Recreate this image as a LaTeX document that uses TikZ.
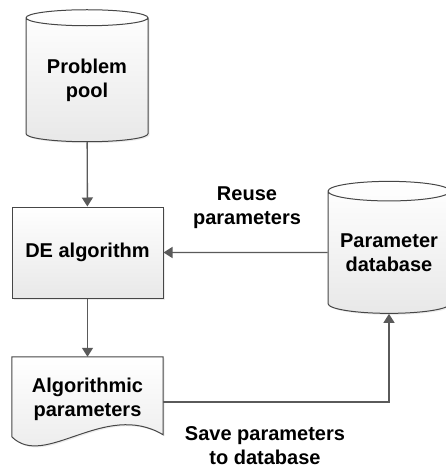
\documentclass[tikz,border=0pt]{standalone}
\usepackage{fontspec}
\setmainfont{Liberation Sans}
\usepackage{tikz}
\usetikzlibrary{shapes.geometric, arrows.meta, positioning, calc, shadows}
\definecolor{edgegray}{RGB}{70,70,70}
\definecolor{arrowgray}{RGB}{90,90,90}
\begin{document}
\begin{tikzpicture}[
    x=1pt, y=-1pt,
    every node/.style={font=\fontsize{20}{24}\selectfont\bfseries, align=center},
    base/.style={draw=edgegray, line width=1pt, top color=white, bottom color=black!9,
                 drop shadow={shadow xshift=1.5pt, shadow yshift=-1.5pt, opacity=0.12, fill=black!60}},
    store/.style={base, cylinder, shape border rotate=90, aspect=0.2, minimum width=122pt, minimum height=132pt, inner sep=0pt},
    procbox/.style={base, rectangle, minimum width=151pt, minimum height=91pt},
    docbox/.style={rectangle, minimum width=151pt, minimum height=90pt},
    lbl/.style={inner sep=1pt},
    arr/.style={draw=arrowgray, line width=1.4pt, -{Triangle[width=11pt,length=9pt]}}
]
\useasboundingbox (0,0) rectangle (446,468);
\node[store] (pool) at (87,80) {Problem\\pool};
\node[procbox] (de) at (87.5,252.5) {DE algorithm};
\node[store] (db) at (389,252.5) {Parameter\\database};
\node[docbox] (alg) at (87.5,402) {};
% document outline with wavy bottom
\path[base] (alg.north west) -- (alg.north east) -- ($(alg.north east)+(0,78)$)
    .. controls ($(alg.north west)+(93,43)$) and ($(alg.north west)+(33,113)$) .. ($(alg.north west)+(0,80)$) -- cycle;
\node at (alg.center) [yshift=3pt] {Algorithmic\\parameters};
\node[lbl] (reuse) at (247,208) {Reuse\\parameters};
\node[lbl] (save) at (265,446) {Save parameters\\to database};
\draw[arr] (pool) -- (de);
\draw[arr] (de) -- (alg.north);
\draw[arr] (db) -- (de);
\draw[arr] (alg.east) -| (db.south);
\end{tikzpicture}
\end{document}
